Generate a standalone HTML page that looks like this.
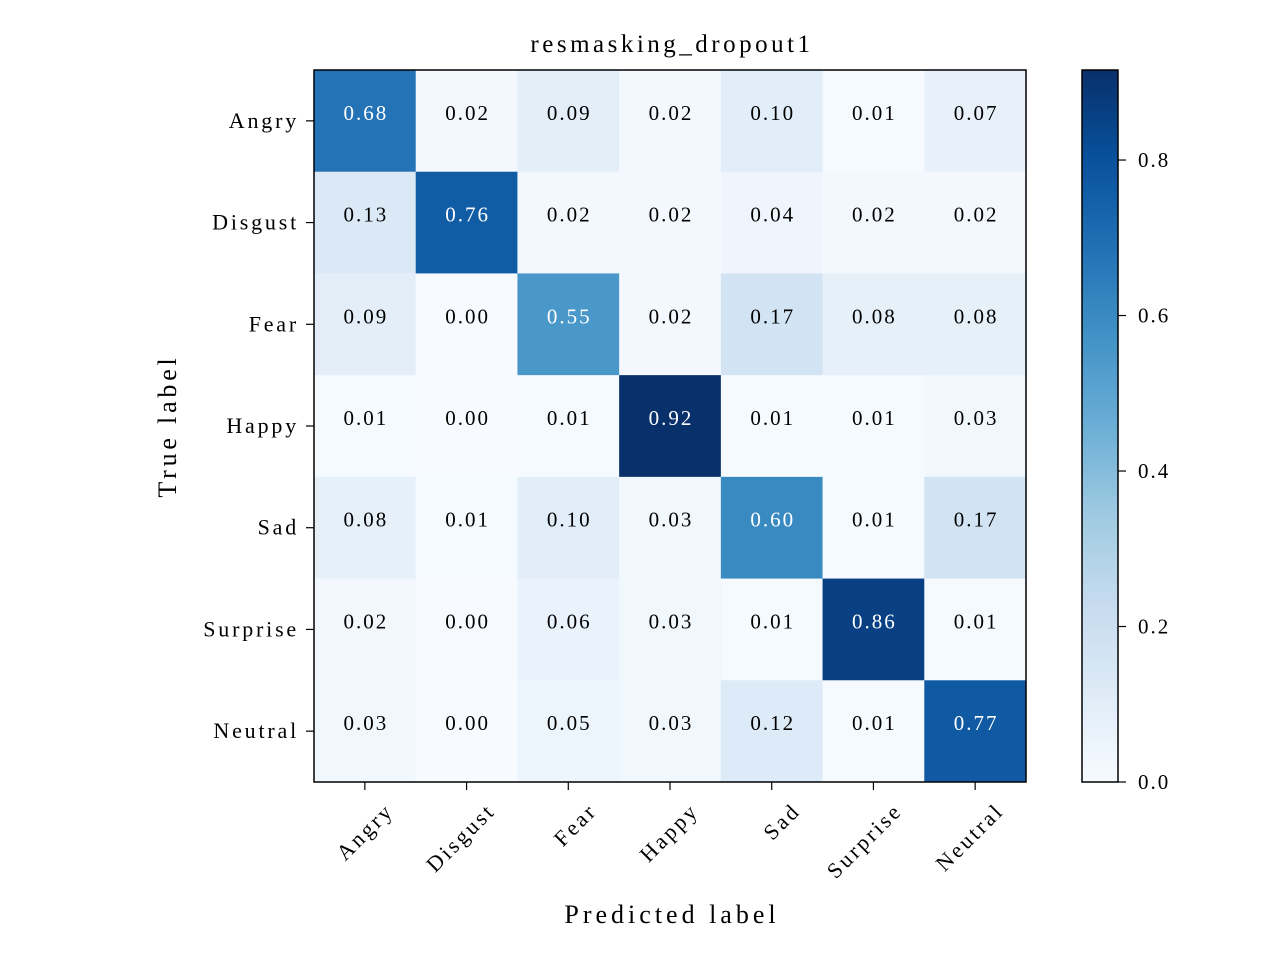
<!DOCTYPE html>
<html><head><meta charset="utf-8"><style>
body{margin:0;background:#fff;}
svg{display:block;font-family:"Liberation Serif",serif;}
</style></head><body>
<svg id="chart" width="1280" height="960"></svg>
<script>
const labels=["Angry","Disgust","Fear","Happy","Sad","Surprise","Neutral"];
const row0=[0.68,0.02,0.09,0.02,0.10,0.01,0.07];
const row1=[0.13,0.76,0.02,0.02,0.04,0.02,0.02];
const row2=[0.09,0.00,0.55,0.02,0.17,0.08,0.08];
const row3=[0.01,0.00,0.01,0.92,0.01,0.01,0.03];
const row4=[0.08,0.01,0.10,0.03,0.60,0.01,0.17];
const row5=[0.02,0.00,0.06,0.03,0.01,0.86,0.01];
const row6=[0.03,0.00,0.05,0.03,0.12,0.01,0.77];
const matrix=[row0,row1,row2,row3,row4,row5,row6];
const cbTicks=[0,0.2,0.4,0.6,0.8];
const vmax=0.9158;

const NS="http://www.w3.org/2000/svg";
const svg=document.getElementById("chart");
function mk(tag,attrs,parent){const e=document.createElementNS(NS,tag);for(const k in attrs)e.setAttribute(k,attrs[k]);(parent||svg).appendChild(e);return e;}
const stops=["#f7fbff","#deebf7","#c6dbef","#9ecae1","#6baed6","#4292c6","#2171b5","#08519c","#08306b"];
function hex(h){return [1,3,5].map(i=>parseInt(h.substr(i,2),16));}
function cmap(v){let t=Math.max(0,Math.min(1,v/vmax))*8;let i=Math.min(7,Math.floor(t));let f=t-i;const a=hex(stops[i]),b=hex(stops[i+1]);return "rgb("+a.map((x,k)=>Math.round(x+(b[k]-x)*f)).join(",")+")";}
const X0=314,Y0=70,W=712,H=712,n=labels.length,cw=W/n,ch=H/n;
const xs=j=>X0+j*cw, ys=i=>Y0+i*ch;

let t=mk("text",{x:672,y:52,"text-anchor":"middle","font-size":"25","letter-spacing":"3.5"});t.textContent="resmasking_dropout1";



matrix.forEach((row,i)=>row.forEach((v,j)=>{
  const r=mk("rect",{x:xs(j),y:ys(i),width:cw+0.5,height:ch+0.5,fill:cmap(v)});
  
  
  const tx=mk("text",{x:xs(j)+cw/2+1,y:ys(i)+ch/2-1,"text-anchor":"middle","font-size":"21","letter-spacing":"2",fill:v>vmax/2?"#fff":"#000"});
  tx.textContent=v.toFixed(2);
  
  
}));
mk("rect",{x:X0,y:Y0,width:W,height:H,fill:"none",stroke:"#000","stroke-width":1.5});

labels.forEach((l,i)=>{
  const cy=ys(i)+ch/2;
  mk("line",{x1:X0-8,x2:X0,y1:cy,y2:cy,stroke:"#000","stroke-width":1.2});
  const a=mk("text",{x:X0-15,y:cy+7,"text-anchor":"end","font-size":"22","letter-spacing":"2.8"});a.textContent=l;
  
  
  const cx=xs(i)+cw/2;
  mk("line",{x1:cx,x2:cx,y1:Y0+H,y2:Y0+H+8,stroke:"#000","stroke-width":1.2});
  const bx=cx+30,by=Y0+H+30;
  const b=mk("text",{x:bx,y:by,"text-anchor":"end","font-size":"22","letter-spacing":"2.8",transform:`rotate(-45 ${bx} ${by})`});b.textContent=l;
  
  
});
t=mk("text",{x:672,y:923,"text-anchor":"middle","font-size":"26","letter-spacing":"4"});t.textContent="Predicted label";


t=mk("text",{x:176,y:426,"text-anchor":"middle","font-size":"26","letter-spacing":"3.8",transform:"rotate(-90 176 426)"});t.textContent="True label";



// colorbar
const CX=1082,CW=36,CY0=70,CH=712;
const defs=mk("defs",{});
const g=mk("linearGradient",{id:"cb",x1:0,y1:1,x2:0,y2:0},defs);
stops.forEach((s,k)=>mk("stop",{offset:k/8,"stop-color":s},g));
const cb=mk("rect",{x:CX,y:CY0,width:CW,height:CH,fill:"url(#cb)",stroke:"#000","stroke-width":1.5});


const cy=v=>CY0+CH-v/vmax*CH;
cbTicks.forEach(v=>{
  mk("line",{x1:CX+CW,x2:CX+CW+8,y1:cy(v),y2:cy(v),stroke:"#000","stroke-width":1.2});
  const a=mk("text",{x:CX+CW+20,y:cy(v)+7,"font-size":"21","letter-spacing":"2"});a.textContent=v.toFixed(1);
  
  
});
</script>
</body></html>
